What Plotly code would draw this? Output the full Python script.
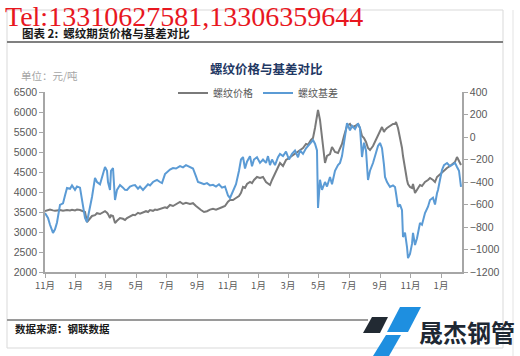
import plotly.graph_objects as go

W, H = 520, 356

dates = [
    "2019-11-01", "2019-11-07", "2019-11-11", "2019-11-17", "2019-11-21", "2019-11-25",
    "2019-12-01", "2019-12-07", "2019-12-11", "2019-12-15", "2019-12-21", "2019-12-25",
    "2019-12-31", "2020-01-04", "2020-01-10", "2020-01-14", "2020-01-20", "2020-01-24",
    "2020-01-30", "2020-02-03", "2020-02-09", "2020-02-13", "2020-02-19", "2020-02-25",
    "2020-02-29", "2020-03-04", "2020-03-06", "2020-03-10", "2020-03-12", "2020-03-16",
    "2020-03-18", "2020-03-20", "2020-03-24", "2020-03-30", "2020-04-05", "2020-04-09",
    "2020-04-13", "2020-04-19", "2020-04-25", "2020-04-29", "2020-05-05", "2020-05-09",
    "2020-05-15", "2020-05-21", "2020-05-25", "2020-05-29", "2020-06-04", "2020-06-08",
    "2020-06-12", "2020-06-18", "2020-06-22", "2020-06-28", "2020-07-02", "2020-07-08",
    "2020-07-14", "2020-07-20", "2020-07-28", "2020-08-03", "2020-08-09", "2020-08-17",
    "2020-08-23", "2020-08-29", "2020-09-02", "2020-09-08", "2020-09-14", "2020-09-20",
    "2020-09-26", "2020-10-02", "2020-10-08", "2020-10-14", "2020-10-20", "2020-10-26",
    "2020-11-01", "2020-11-05", "2020-11-11", "2020-11-17", "2020-11-23", "2020-11-27",
    "2020-12-01", "2020-12-05", "2020-12-09", "2020-12-15", "2020-12-19", "2020-12-23",
    "2020-12-29", "2021-01-04", "2021-01-10", "2021-01-16", "2021-01-20", "2021-01-24",
    "2021-01-28", "2021-02-03", "2021-02-09", "2021-02-13", "2021-02-19", "2021-02-25",
    "2021-03-03", "2021-03-09", "2021-03-15", "2021-03-21", "2021-03-25", "2021-03-31",
    "2021-04-06", "2021-04-10", "2021-04-16", "2021-04-20", "2021-04-24", "2021-04-28",
    "2021-04-30", "2021-05-04", "2021-05-08", "2021-05-14", "2021-05-18", "2021-05-24",
    "2021-05-28", "2021-06-03", "2021-06-09", "2021-06-13", "2021-06-17", "2021-06-21",
    "2021-06-27", "2021-07-03", "2021-07-07", "2021-07-13", "2021-07-19", "2021-07-23",
    "2021-07-27", "2021-07-31", "2021-08-04", "2021-08-08", "2021-08-12", "2021-08-18",
    "2021-08-24", "2021-08-28", "2021-09-01", "2021-09-05", "2021-09-09", "2021-09-11",
    "2021-09-15", "2021-09-21", "2021-09-27", "2021-10-01", "2021-10-03", "2021-10-07",
    "2021-10-11", "2021-10-15", "2021-10-17", "2021-10-21", "2021-10-25", "2021-10-27",
    "2021-10-31", "2021-11-04", "2021-11-06", "2021-11-10", "2021-11-14", "2021-11-20",
    "2021-11-24", "2021-11-30", "2021-12-06", "2021-12-10", "2021-12-16", "2021-12-20",
    "2021-12-24", "2021-12-26", "2021-12-30", "2022-01-03", "2022-01-07", "2022-01-13",
    "2022-01-19", "2022-01-25", "2022-01-29", "2022-02-02", "2022-02-06", "2022-02-10",
]

price = [
    3525, 3550, 3560, 3540, 3530, 3540,
    3550, 3530, 3540, 3550, 3540, 3555,
    3540, 3560, 3550, 3530, 3500, 3250,
    3350, 3400, 3420, 3470, 3450, 3500,
    3520, 3480, 3450, 3350, 3420, 3400,
    3300, 3225, 3280, 3350, 3330, 3300,
    3350, 3380, 3430, 3420, 3480, 3460,
    3500, 3520, 3500, 3550, 3530, 3560,
    3550, 3580, 3600, 3620, 3600, 3675,
    3650, 3700, 3750, 3700, 3730, 3700,
    3720, 3650, 3600, 3550, 3500, 3520,
    3560, 3580, 3560, 3600, 3620, 3650,
    3760, 3800, 3800, 3850, 3900, 3980,
    4125, 4100, 4200, 4250, 4220, 4300,
    4375, 4350, 4375, 4250, 4200, 4175,
    4300, 4450, 4600, 4725, 4650, 4800,
    4850, 4900, 4950, 5000, 5050, 5100,
    5200, 5180, 5300, 5350, 5600, 5850,
    6050, 5800, 5400, 4725, 4900, 4950,
    5125, 5000, 4975, 5100, 5200, 5400,
    5650, 5700, 5620, 5650, 5700, 5600,
    5400, 5350, 5250, 5100, 5050, 5150,
    5300, 5400, 5500, 5625, 5500, 5550,
    5600, 5650, 5700, 5700, 5750, 5600,
    5375, 5100, 4900, 4550, 4300, 4200,
    4125, 4100, 4200, 3975, 4050, 4175,
    4150, 4250, 4300, 4350, 4300, 4250,
    4375, 4400, 4450, 4500, 4550, 4600,
    4650, 4700, 4750, 4875, 4750, 4675,
]

basis = [
    -676, -720, -780, -853, -820, -760,
    -604, -590, -520, -453, -460, -430,
    -470, -440, -450, -560, -720, -756,
    -640, -533, -364, -400, -420, -330,
    -267, -300, -400, -471, -300, -276,
    -500, -560, -470, -427, -450, -470,
    -471, -440, -430, -427, -460, -440,
    -470, -440, -420, -430, -400, -390,
    -382, -400, -410, -330, -311, -290,
    -276, -280, -258, -270, -250, -270,
    -280, -350, -400, -409, -420, -410,
    -430, -425, -440, -420, -450, -440,
    -520, -542, -480, -420, -300, -200,
    -178, -280, -220, -170, -260, -200,
    -180, -230, -200, -230, -170, -250,
    -200, -250, -180, -150, -170, -130,
    -200, -150, -120, -180, -120, -150,
    -100, -80, -40, -27, -60, -120,
    -631, -380, -470, -400, -440, -355,
    -420, -300, -250, -230, -170, -40,
    124, 60, 100, 70, 120, 80,
    -178, -50, -120, -382, -300, -231,
    -150, -80, -53, -100, -250, -355,
    -400, -444, -430, -444, -500, -622,
    -600, -650, -889, -850, -978, -1076,
    -1040, -950, -853, -960, -900, -764,
    -780, -676, -620, -560, -540, -600,
    -500, -471, -380, -293, -250, -231,
    -260, -240, -230, -267, -300, -444,
]

series_names = ["螺纹价格", "螺纹基差"]
left_ticks = list(range(2000, 6501, 500))
right_ticks = list(range(-1200, 401, 200))


def px(x):
    return x / W


def py(y):
    return 1 - y / H


fig = go.Figure()
fig.add_trace(go.Scatter(x=dates, y=price, name=series_names[0], mode="lines",
                         line=dict(color="#7a7a7a", width=2), yaxis="y"))
fig.add_trace(go.Scatter(x=dates, y=basis, name=series_names[1], mode="lines",
                         line=dict(color="#5b9bd5", width=2), yaxis="y2"))

axis_color = "#a6a6a6"
tick_font = dict(family="Liberation Sans, Arial, sans-serif", size=10.5, color="#595959")

fig.update_layout(
    width=W, height=H, autosize=False,
    margin=dict(l=0, r=0, t=0, b=0),
    paper_bgcolor="white", plot_bgcolor="white",
    template="none",
    font=dict(family="Noto Sans CJK SC, sans-serif", color="#595959"),
    showlegend=True,
    legend=dict(orientation="h", x=px(258), xanchor="center", y=py(93), yanchor="middle",
                font=dict(size=10, color="#595959", family="Noto Sans CJK SC"),
                bgcolor="rgba(0,0,0,0)", itemwidth=30, traceorder="normal"),
    xaxis=dict(type="date", domain=[px(45), px(462)],
               range=["2019-11-01", "2022-02-12"],
               tick0="2019-11-01", dtick="M2", tickformat="%-m月",
               showline=True, linecolor=axis_color, linewidth=1.5,
               ticks="outside", ticklen=4, tickcolor=axis_color,
               tickfont=dict(family="Noto Sans CJK SC", size=9.5, color="#595959"),
               showgrid=False, zeroline=False, automargin=False, anchor="y"),
    yaxis=dict(domain=[py(272), py(92)], range=[2000, 6500], tickvals=left_ticks,
               showline=True, linecolor=axis_color, linewidth=1.5,
               ticks="outside", ticklen=4, tickcolor=axis_color, tickfont=tick_font,
               showgrid=False, zeroline=False, automargin=False, anchor="x"),
    yaxis2=dict(domain=[py(272), py(92)], range=[-1200, 400], tickvals=right_ticks,
                overlaying="y", side="right", anchor="x",
                showline=True, linecolor=axis_color, linewidth=1.5,
                ticks="outside", ticklen=4, tickcolor=axis_color, tickfont=tick_font,
                showgrid=False, zeroline=False, automargin=False),
)

shapes = []
# page frame
shapes.append(dict(type="rect", xref="paper", yref="paper", x0=px(7), x1=px(503),
                   y0=py(348), y1=py(10), line=dict(color="#d9d9d9", width=1), layer="below"))
shapes.append(dict(type="line", xref="paper", yref="paper", x0=px(513), x1=px(513),
                   y0=py(356), y1=py(10), line=dict(color="#e3e3e3", width=1)))
# header rule
shapes.append(dict(type="line", xref="paper", yref="paper", x0=px(7), x1=px(503),
                   y0=py(42), y1=py(42), line=dict(color="#808080", width=2)))
# footer rule
shapes.append(dict(type="line", xref="paper", yref="paper", x0=px(7), x1=px(368),
                   y0=py(320), y1=py(320), line=dict(color="#9a9a9a", width=2)))


def poly(pts, color):
    d = "M " + " L ".join(f"{px(x):.5f},{py(y):.5f}" for x, y in pts) + " Z"
    return dict(type="path", xref="paper", yref="paper", path=d,
                fillcolor=color, line=dict(width=0))


# logo marks
shapes.append(poly([(372, 317), (388, 317), (380, 333), (363, 333)], "#222a33"))
shapes.append(poly([(400, 307), (421, 307), (408, 332), (387, 332)], "#1e8fe0"))
shapes.append(poly([(386, 335), (401, 335), (389, 356), (373, 356)], "#1e8fe0"))
fig.update_layout(shapes=shapes)

annotations = [
    dict(text="Tel:13310627581,13306359644", x=px(4), y=py(16), xanchor="left", yanchor="middle",
         font=dict(family="Liberation Serif, serif", size=28, color="#e8171f"), borderpad=0),
    dict(text="<b>图表 2:  螺纹期货价格与基差对比</b>", x=px(21), y=py(33), xanchor="left",
         yanchor="middle", font=dict(family="Noto Sans CJK SC", size=11.5, color="#1a1a1a"),
         borderpad=0),
    dict(text="<b>螺纹价格与基差对比</b>", x=px(266), y=py(68), xanchor="center", yanchor="middle",
         font=dict(family="Noto Sans CJK SC", size=12.5, color="#1f3864")),
    dict(text="单位：元/吨", x=px(19), y=py(75), xanchor="left", yanchor="middle",
         font=dict(family="Noto Sans CJK SC", size=10.5, color="#a6a6a6")),
    dict(text="<b>数据来源：钢联数据</b>", x=px(13), y=py(328), xanchor="left", yanchor="middle",
         font=dict(family="Noto Sans CJK SC", size=10.5, color="#1a1a1a")),
    dict(text="<b>晟杰钢管</b>", x=px(467), y=py(331), xanchor="center", yanchor="middle",
         font=dict(family="Noto Sans CJK SC", size=24, color="#1e2833")),
]
for a in annotations:
    a.update(xref="paper", yref="paper", showarrow=False)
fig.update_layout(annotations=annotations)

fig.write_html("out.html")
